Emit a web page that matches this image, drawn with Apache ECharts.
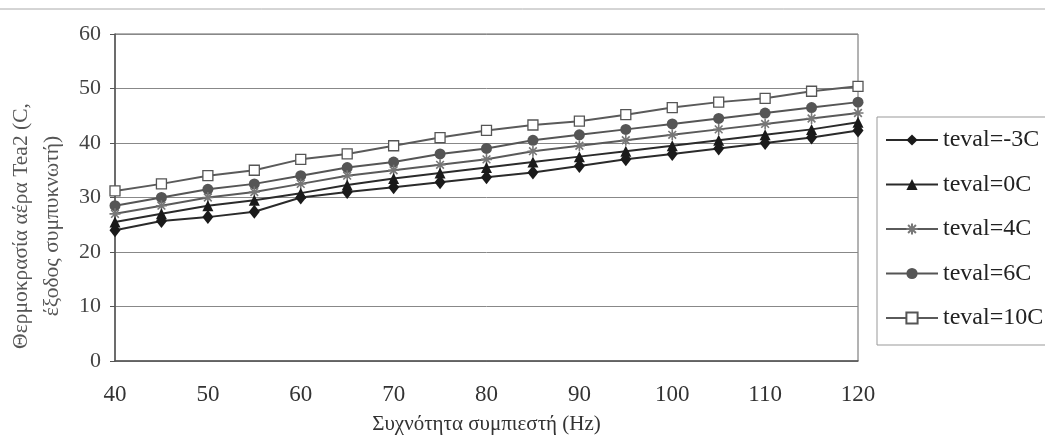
<!DOCTYPE html>
<html>
<head>
<meta charset="utf-8">
<script src="https://cdn.jsdelivr.net/npm/echarts@6/dist/echarts.min.js"></script>
<style>html,body{margin:0;padding:0;background:#fff;}#c{width:1045px;height:441px;}</style>
</head>
<body>
<div id="c"></div>
<script>
const freq = [40,45,50,55,60,65,70,75,80,85,90,95,100,105,110,115,120];
const yTicks = [0,10,20,30,40,50,60];
const seriesNames = ['teval=-3C','teval=0C','teval=4C','teval=6C','teval=10C'];
const tevalM3 = [24,25.7,26.4,27.4,30,31,31.9,32.8,33.7,34.6,35.8,37,38,39,40,41,42.3];
const teval0  = [25.5,27,28.5,29.5,30.8,32.3,33.5,34.5,35.5,36.5,37.5,38.5,39.5,40.5,41.5,42.5,43.8];
const teval4  = [27,28.5,30,31,32.5,34,35,36,37,38.5,39.5,40.5,41.5,42.5,43.5,44.5,45.5];
const teval6  = [28.5,30,31.5,32.5,34,35.5,36.5,38,39,40.5,41.5,42.5,43.5,44.5,45.5,46.5,47.5];
const teval10 = [31.2,32.5,34,35,37,38,39.5,41,42.3,43.3,44,45.2,46.5,47.5,48.2,49.5,50.4];
const allValues = [tevalM3, teval0, teval4, teval6, teval10];

const serif = '"Liberation Serif", "DejaVu Serif", serif';
const asterisk = 'path://M0,5 L10,5 M5,0 L5,10 M1.5,1.5 L8.5,8.5 M8.5,1.5 L1.5,8.5';
const styles = [
  {symbol:'diamond', size:[11,14], line:'#2a2a2a', fill:'#1a1a1a', border:'#1a1a1a', bw:0},
  {symbol:'triangle', size:11, line:'#2a2a2a', fill:'#1a1a1a', border:'#1a1a1a', bw:0},
  {symbol:asterisk, size:11, line:'#5a5a5a', fill:'rgba(0,0,0,0)', border:'#777', bw:1.6},
  {symbol:'circle', size:11, line:'#555', fill:'#555', border:'#555', bw:0},
  {symbol:'rect', size:10, line:'#5a5a5a', fill:'#fff', border:'#555', bw:1.3}
];

const series = seriesNames.map((n,i)=>({
  name:n, type:'line',
  data: freq.map((f,j)=>[f, allValues[i][j]]),
  symbol: styles[i].symbol, symbolSize: styles[i].size,
  showAllSymbol:true,
  lineStyle:{color:styles[i].line, width:2},
  itemStyle:{color:styles[i].fill, borderColor:styles[i].border, borderWidth:styles[i].bw},
  z: 10 - i,
  animation:false
}));

const chart = echarts.init(document.getElementById('c'), null, {renderer:'canvas'});
chart.setOption({
  animation:false,
  backgroundColor:'#fff',
  grid:{left:115, top:34, width:743, height:327, show:true, borderColor:'#666', borderWidth:1, backgroundColor:'#fff'},
  xAxis:{type:'value', min:40, max:120, interval:10,
    axisLine:{lineStyle:{color:'#555', width:1.5}},
    axisTick:{show:false},
    splitLine:{show:false},
    axisLabel:{color:'#333', fontFamily:serif, fontSize:23, margin:22},
    name:'Συχνότητα συμπιεστή (Hz)', nameLocation:'middle', nameGap:53,
    nameTextStyle:{color:'#333', fontFamily:serif, fontSize:21}
  },
  yAxis:{type:'value', min:yTicks[0], max:yTicks[yTicks.length-1], interval:10,
    axisLine:{show:true, lineStyle:{color:'#555', width:1.5}},
    axisTick:{show:true, length:5, lineStyle:{color:'#555'}},
    splitLine:{lineStyle:{color:'#888', width:1}},
    axisLabel:{color:'#444', fontFamily:serif, fontSize:22, margin:14}
  },
  legend:{
    orient:'vertical', left:885, top:127, padding:0,
    itemWidth:52, itemHeight:14, itemGap:18.5,
    textStyle:{color:'#222', fontFamily:serif, fontSize:24, lineHeight:26},
    data: seriesNames
  },
  graphic:[
    {type:'line', shape:{x1:0,y1:9,x2:1045,y2:9}, style:{stroke:'#aaa', lineWidth:1}},
    {type:'rect', shape:{x:877,y:117,width:200,height:228}, style:{fill:'none', stroke:'#999', lineWidth:1}, z:-1},
    {type:'text', x:37, y:226, rotation:Math.PI/2,
      style:{text:'Θερμοκρασία αέρα Tea2 (C,\nέξοδος συμπυκνωτή)', font:'21.5px "Liberation Serif", serif',
        fill:'#555', align:'center', verticalAlign:'middle', lineHeight:31}}
  ],
  series: series
});
</script>
</body>
</html>
